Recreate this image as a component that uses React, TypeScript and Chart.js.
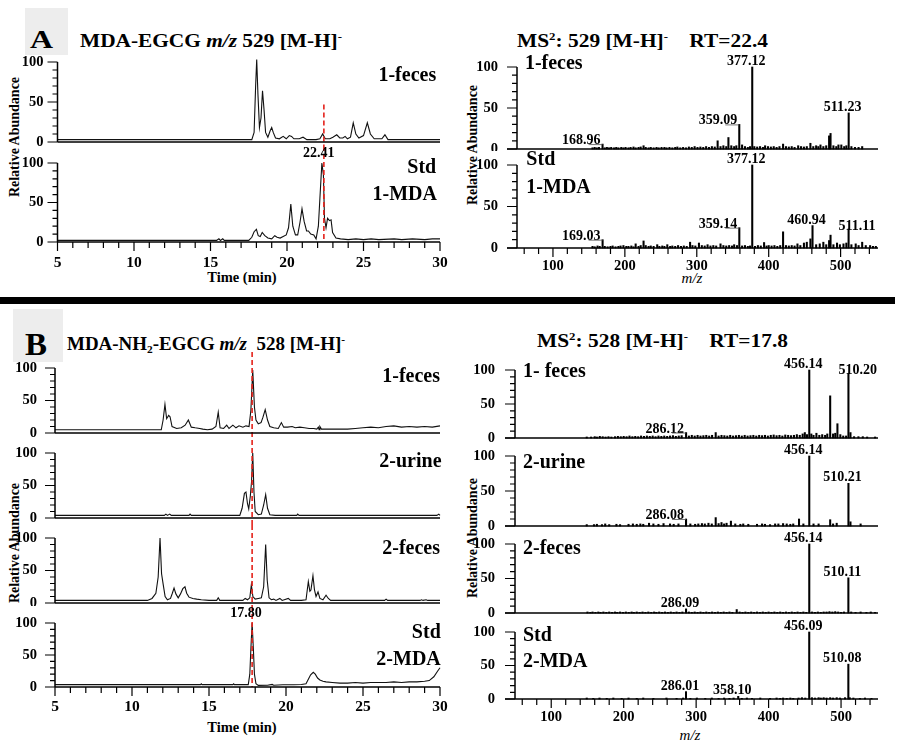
import React, { useEffect, useLayoutEffect, useRef } from 'react';
import { Chart, registerables } from 'chart.js';

Chart.register(...registerables);

const FONT = '"Liberation Serif", "Times New Roman", Times, serif';
Chart.defaults.font.family = FONT;

// ---------- tick values ----------
const yLabelTicks = [0, 50, 100];
const yTickMarks = [0, 10, 20, 30, 40, 50, 60, 70, 80, 90, 100];
const timeLabelTicks = [5, 10, 15, 20, 25, 30];
const timeTickMarks = [5, 6, 7, 8, 9, 10, 11, 12, 13, 14, 15, 16, 17, 18, 19, 20, 21, 22, 23, 24, 25, 26, 27, 28, 29, 30];
const mzLabelTicks = [100, 200, 300, 400, 500];
const mzTickMarks = [60, 80, 100, 120, 140, 160, 180, 200, 220, 240, 260, 280, 300, 320, 340, 360, 380, 400, 420, 440, 460, 480, 500, 520, 540];

// ---------- chromatograms: [time (min), relative abundance] ----------
const chromA1: [number, number][] = [
  [5, 3], [8, 3], [11, 3], [14, 3], [17.7, 3], [17.85, 12], [17.95, 70], [18.02, 103], [18.1, 60], [18.2, 18],
  [18.3, 30], [18.4, 64], [18.5, 40], [18.6, 12], [18.75, 6], [18.9, 14], [19.0, 18], [19.1, 12], [19.25, 5],
  [19.5, 4], [19.75, 7], [19.95, 4], [20.15, 8], [20.3, 7], [20.45, 4], [20.8, 4], [21.05, 6], [21.3, 3],
  [21.9, 3], [22.15, 4], [22.33, 10], [22.5, 4], [22.8, 4], [23.0, 6], [23.25, 9], [23.45, 5], [23.65, 5],
  [23.8, 7], [23.95, 4], [24.15, 6], [24.33, 24], [24.5, 10], [24.7, 5], [25.0, 8], [25.25, 24], [25.45, 10],
  [25.7, 4], [26.2, 4], [26.4, 9], [26.6, 3], [28, 3], [30, 3],
];
const chromA2: [number, number][] = [
  [5, 2], [10, 2], [15.4, 2], [15.55, 4], [15.65, 2], [15.8, 4], [15.9, 2], [17.5, 2], [17.7, 6], [17.85, 13],
  [18.0, 16], [18.12, 8], [18.25, 7], [18.38, 12], [18.55, 8], [18.75, 5], [19.0, 4], [19.2, 8], [19.35, 6],
  [19.55, 5], [19.75, 7], [19.95, 9], [20.1, 18], [20.25, 48], [20.38, 20], [20.55, 9], [20.7, 9], [20.85, 25],
  [20.98, 42], [21.12, 26], [21.28, 14], [21.4, 14], [21.55, 10], [21.75, 9], [21.9, 4], [22.05, 20], [22.15, 55],
  [22.28, 100], [22.38, 85], [22.45, 30], [22.55, 18], [22.65, 30], [22.78, 27], [22.88, 28], [22.98, 12],
  [23.2, 5], [23.5, 4], [24.0, 3], [24.5, 4], [25.0, 3], [25.5, 4], [26.0, 3], [27.0, 4], [27.5, 3], [28.2, 4],
  [29.0, 3], [29.5, 4], [30, 4],
];
const chromB1: [number, number][] = [
  [5, 5], [11.9, 5], [12.02, 20], [12.14, 44], [12.25, 22], [12.38, 27], [12.47, 25], [12.6, 10], [12.9, 7],
  [13.2, 8], [13.45, 12], [13.66, 20], [13.85, 9], [14.1, 8], [14.4, 7], [14.6, 6], [14.9, 5], [15.2, 6],
  [15.45, 10], [15.6, 32], [15.72, 8], [15.95, 7], [16.15, 12], [16.3, 7], [16.55, 12], [16.75, 8], [16.95, 11],
  [17.2, 9], [17.4, 11], [17.6, 10], [17.72, 35], [17.84, 97], [17.95, 40], [18.05, 20], [18.2, 14], [18.38, 16],
  [18.5, 24], [18.65, 36], [18.8, 20], [18.95, 10], [19.2, 8], [19.5, 7], [19.7, 16], [19.85, 9], [20.1, 9],
  [20.4, 10], [20.6, 8], [20.9, 9], [21.2, 8], [21.5, 7], [21.8, 7], [22.0, 6], [22.1, 9], [22.15, 5], [22.2, 10],
  [22.3, 6], [23, 6], [24, 6], [24.5, 7], [25, 8], [25.5, 9], [26, 8], [26.5, 10], [27, 11], [27.5, 9], [28, 10],
  [28.5, 9], [29, 10], [29.5, 9], [30, 11],
];
const chromB2: [number, number][] = [
  [5, 4], [12.1, 4], [12.2, 6], [12.3, 4], [12.45, 6], [12.55, 4], [13.7, 4], [13.77, 6], [13.85, 4], [17.0, 4],
  [17.15, 15], [17.3, 38], [17.4, 40], [17.5, 22], [17.58, 14], [17.68, 33], [17.76, 55], [17.84, 100], [17.92, 40],
  [18.0, 10], [18.2, 5], [18.4, 6], [18.55, 20], [18.68, 36], [18.8, 15], [18.95, 5], [19.3, 4], [20.7, 4],
  [20.76, 6], [20.85, 4], [29.8, 4], [29.92, 6], [30, 4],
];
const chromB3: [number, number][] = [
  [5, 4], [11.0, 4], [11.3, 7], [11.55, 15], [11.7, 40], [11.82, 100], [11.92, 45], [12.03, 28], [12.15, 10],
  [12.3, 5], [12.5, 7], [12.62, 15], [12.73, 23], [12.85, 14], [13.0, 8], [13.15, 14], [13.3, 22], [13.44, 25],
  [13.55, 15], [13.7, 9], [13.95, 7], [14.2, 6], [14.5, 5], [15.0, 4], [15.5, 4], [15.6, 8], [15.7, 4], [17.2, 4],
  [17.35, 7], [17.5, 5], [17.65, 8], [17.75, 28], [17.85, 10], [18.0, 6], [18.2, 7], [18.4, 8], [18.55, 25],
  [18.68, 90], [18.78, 35], [18.9, 8], [19.05, 5], [19.2, 6], [19.35, 4], [19.6, 7], [19.75, 4], [20.15, 7],
  [20.3, 4], [21.0, 4], [21.3, 5], [21.45, 33], [21.55, 18], [21.62, 20], [21.75, 42], [21.85, 20], [21.95, 10],
  [22.08, 17], [22.2, 7], [22.4, 5], [22.6, 12], [22.75, 7], [22.9, 4], [26.4, 4], [26.5, 6], [26.6, 4], [28.7, 4],
  [28.8, 5], [28.9, 4], [29.1, 5], [29.2, 4], [30, 4],
];
const chromB4: [number, number][] = [
  [5, 3.7], [14.45, 3.7], [14.5, 5], [14.55, 3.7], [16.55, 3.7], [16.6, 5], [16.65, 3.7], [17.55, 3.7], [17.65, 20],
  [17.72, 60], [17.8, 100], [17.88, 60], [17.95, 20], [18.05, 5], [18.2, 2.5], [18.8, 2.7], [19.1, 4], [19.2, 2.7],
  [19.8, 3.5], [20.5, 3.5], [21.0, 4], [21.3, 5], [21.45, 12], [21.6, 19], [21.77, 23], [21.9, 20], [22.05, 14],
  [22.2, 11], [22.4, 9], [22.6, 8], [23, 7], [23.5, 6], [24, 6], [24.5, 7], [25, 6], [25.5, 7], [26, 7], [26.5, 7],
  [27, 8], [27.5, 7], [28, 8], [28.5, 8], [29, 9], [29.3, 10], [29.6, 16], [29.85, 25], [30, 30],
];

// ---------- MS2 spectra: [m/z, relative abundance] ----------
const msA1: [number, number][] = [
  [155, 1.5], [158, 2], [161, 1.5], [164, 2], [168.96, 6], [172, 1.5], [175, 2], [178, 1.5], [181, 2], [185, 1.5],
  [188, 2], [191, 1.5], [195, 2], [198, 1.5], [201, 2], [205, 1.5], [208, 2], [212, 2.5], [215, 1.5], [219, 2],
  [222, 2.5], [226, 4], [229, 2], [233, 1.5], [236, 2], [240, 1.5], [244, 2], [247, 1.5], [251, 2], [255, 2],
  [258, 1.5], [262, 2], [266, 1.5], [270, 2], [273, 2.5], [277, 1.5], [281, 2], [285, 1.5], [289, 2.5], [293, 2],
  [297, 3], [301, 2], [305, 2.5], [309, 2], [313, 3], [317, 2], [321, 3], [325, 2.5], [329, 10], [333, 3],
  [337, 4], [341, 3], [344, 14], [348, 4], [352, 3], [355, 4], [359.09, 30], [363, 5], [367, 3], [371, 2],
  [374, 3], [377.12, 100], [380, 3], [384, 2.5], [388, 3], [392, 2], [395, 4], [399, 3], [403, 2.5], [407, 3],
  [411, 2], [415, 3], [420, 6], [424, 3], [428, 2.5], [432, 3], [436, 2], [441, 4], [445, 3], [449, 2.5],
  [453, 3], [458, 7], [462, 3], [466, 4], [469, 3], [472, 5], [476, 3], [480, 4], [484, 16], [486, 19],
  [490, 4], [494, 3], [497, 5], [501, 5], [505, 3], [508, 4], [511.23, 44], [515, 3], [520, 2], [525, 2], [530, 3],
];
const msA2: [number, number][] = [
  [155, 2], [158, 1.5], [162, 2.5], [165, 2], [169.03, 10], [172, 2], [176, 1.5], [180, 2], [183, 2.5], [187, 1.5],
  [191, 2], [194, 2.5], [198, 3], [202, 2], [205, 2], [209, 2.5], [212, 1.5], [215, 5], [219, 2], [222, 3],
  [226, 8.5], [229, 3], [233, 2], [236, 2.5], [240, 2], [245, 4], [248, 2], [252, 2.5], [255, 2], [259, 4],
  [263, 2], [266, 2.5], [270, 2], [274, 3], [278, 2], [282, 2.5], [286, 2], [290.7, 7], [294, 3], [298, 2.5],
  [303, 6], [307, 3], [311, 2.5], [315, 4], [319, 2.5], [323, 3], [327, 2.5], [333, 5], [337, 3], [341, 2.5],
  [345, 3], [349, 2.5], [352, 4], [356, 3], [359.14, 24.5], [363, 2.5], [367, 3], [371, 2], [374, 2.5],
  [377.12, 100], [381, 2], [385, 3], [389, 2.5], [393.6, 6.6], [397, 2.5], [400, 3], [404, 2.5], [408, 3],
  [412, 2], [416, 3], [420, 19.5], [424, 3], [428, 2.5], [432, 3], [436, 2.5], [440, 5], [444, 3], [449, 6],
  [453, 7], [458, 11], [460.94, 27], [466, 4], [471, 5], [476, 7], [480, 4], [484, 9], [486, 15.5], [490, 4],
  [495, 6], [499, 4], [504, 5], [508, 6], [511.11, 23], [515, 4], [521, 5], [525, 3], [530, 7], [535, 3],
  [541, 3], [545, 2], [549, 2],
];
const msB1: [number, number][] = [
  [149, 1.5], [155, 1.5], [160, 2], [163, 1.5], [167, 2.5], [171, 2], [175, 1.5], [179, 2], [183, 1.5], [188, 2],
  [192, 2.5], [196, 2], [200, 2.5], [204, 2], [208, 3], [212, 2], [216, 2.5], [220, 2], [224, 3], [228, 2.5],
  [232, 3], [236, 2.5], [240, 3], [244, 2], [248, 3], [252, 2.5], [256, 3], [260, 2.5], [264, 3], [268, 3.5],
  [272, 2.5], [276, 3], [280, 3.5], [286.12, 8], [290, 3], [294, 4], [298, 3], [302, 4], [306, 3], [310, 3.5],
  [314, 4], [318, 3], [322, 4], [327, 8], [331, 3], [335, 4], [339, 3.5], [343, 3], [347, 4], [351, 3],
  [355, 3.5], [359, 4], [363, 3], [367, 4], [371, 3], [375, 3.5], [379, 4], [383, 3], [387, 4], [391, 3.5],
  [395, 4], [399, 3], [403, 4], [407, 4.5], [411, 3.5], [415, 4], [419, 3], [423, 4.5], [427, 4], [431, 3.5],
  [435, 4], [439, 5], [443, 4], [447, 6], [450, 8], [453, 5], [456.14, 100], [459, 6], [462, 4], [466, 7],
  [470, 4], [474, 5], [478, 4], [481, 6], [485, 62], [489, 6], [492, 7], [495, 21], [499, 5], [503, 3],
  [507, 3], [510.2, 95], [513, 8], [518, 2], [524, 2], [530, 2], [536, 1.5], [547, 1.5],
];
const msB2: [number, number][] = [
  [149, 2], [159, 2], [163, 2.5], [170, 2], [174.5, 3], [180, 2], [190, 2.5], [195, 2], [206.7, 2.5], [212.7, 3],
  [218, 2.5], [223, 3], [227, 2.5], [235, 4], [241, 3], [248, 2.5], [255, 3.5], [264, 3], [269, 2.5], [275.6, 3],
  [286.08, 10], [292, 3], [298.6, 2.5], [303, 3], [308, 3.5], [312, 3], [317, 4], [321.6, 3], [327, 12],
  [331, 3.5], [335, 5], [338.6, 3], [342, 4], [348, 7], [354, 3], [361, 2.5], [365, 3], [372, 2.5], [384, 2.5],
  [391, 3], [395, 2.5], [402, 2], [409, 3], [413.5, 3], [420, 3.5], [425, 3], [430, 2.5], [434, 3], [442, 10],
  [448, 3], [456.14, 100], [462, 3], [469, 3], [485, 9], [489, 3], [494, 4], [510.21, 61], [513, 6], [527, 3],
];
const msB3: [number, number][] = [
  [150, 1.5], [154, 1], [157, 1.5], [161, 1], [165, 1.5], [168, 1], [172, 1.5], [176, 1], [180, 1.5], [184, 1],
  [188, 1.5], [191, 1], [195, 1.5], [199, 1], [203, 1.5], [207, 1], [211, 1.5], [214, 1], [218, 1.5], [222, 1],
  [226, 1.5], [230, 1], [234, 1.5], [238, 1], [242, 1.5], [245, 1], [249, 1.5], [253, 1], [257, 1.5], [261, 1],
  [265, 1.5], [269, 1], [273, 1.5], [277, 1], [281, 1.5], [286.09, 6], [290, 1.5], [294, 1], [298, 1.5],
  [302, 1], [306, 1.5], [310, 1], [314, 1.5], [318, 1], [322, 1.5], [326, 1], [330, 1.5], [334, 1], [338, 1.5],
  [342, 1], [346, 1.5], [350, 1], [356, 5], [360, 1.5], [364, 1], [368, 1.5], [372, 1], [376, 1.5], [380, 1],
  [384, 1.5], [388, 1], [392, 1.5], [396, 1], [400, 1.5], [404, 1], [408, 1.5], [412, 1], [416, 1.5], [420, 1],
  [424, 1.5], [428, 1], [432, 1.5], [436, 1], [440, 1.5], [444, 1], [448, 1.5], [452, 1], [456.14, 100],
  [460, 1.5], [464, 1], [468, 1.5], [472, 1], [476, 1.5], [480, 1.5], [484, 2], [488, 1.5], [492, 2], [496, 1.5],
  [500, 1], [504, 1.5], [510.11, 51], [514, 1.5], [520, 1], [527, 1.5], [535, 1], [541, 1.5], [547, 1],
];
const msB4: [number, number][] = [
  [149, 1.5], [158, 1], [166.6, 1.5], [176.6, 1], [185.7, 1.5], [197.2, 1], [206.7, 1.5], [218, 1], [227, 1.5],
  [241, 1], [259, 1.5], [273, 1], [282, 1.5], [286.01, 11], [292, 1], [301, 1.5], [312.6, 1], [321.6, 1.5],
  [331, 1], [338.6, 1.5], [346, 1], [351.7, 1.5], [358.1, 4], [363, 1], [370, 1.5], [377, 1], [388.5, 1.5],
  [402, 1], [411, 1.5], [416, 1], [420, 1.5], [425, 1], [430, 1.5], [434, 1], [441.4, 1.5], [446, 2],
  [450.6, 1.5], [456.09, 100], [459.8, 2], [464, 1.5], [469, 2], [472, 1.5], [476, 2], [480, 1.5], [485, 2],
  [489, 1.5], [494, 2], [498.6, 1.5], [505.5, 2], [510.08, 52], [512, 2], [517, 1.5], [526, 1], [533, 1.5], [542, 1],
];

// labelled fragment ions (m/z)
const peaksA1 = [168.96, 359.09, 377.12, 511.23];
const peaksA2 = [169.03, 359.14, 377.12, 460.94, 511.11];
const peaksB1 = [286.12, 456.14, 510.2];
const peaksB2 = [286.08, 456.14, 510.21];
const peaksB3 = [286.09, 456.14, 510.11];
const peaksB4 = [286.01, 358.1, 456.09, 510.08];

// retention-time markers
const rtA = 22.41;
const rtB = 17.8;

// ---------- layout of the panels (screen px) ----------
type Lbl = { text: string; x: number; y: number; align: CanvasTextAlign };
type Spec = {
  id: string; kind: 'chrom' | 'ms'; left: number; top: number; width: number; height: number;
  points: [number, number][]; xMin: number; xMax: number; axisLeft: number; axisRight: number;
  y100: number; y0: number; bottom: boolean; yPad: number; xPad?: number; xFont?: number;
  labels: Lbl[]; peaks?: number[]; anchors?: string[];
  red?: { x: number; from: number | null; to: number | null }; redLabel?: { y: number; dx: number };
};

const specs: Spec[] = [
  { id: 'Ac1', kind: 'chrom', left: 0, top: 50, width: 450, height: 96, points: chromA1, xMin: 5, xMax: 30,
    axisLeft: 57.5, axisRight: 440, y100: 62, y0: 142, bottom: false, yPad: 14,
    labels: [{ text: '1-feces', x: 29.75, y: 82.5, align: 'right' }], red: { x: rtA, from: 47, to: null } },
  { id: 'Ac2', kind: 'chrom', left: 0, top: 146, width: 450, height: 144, points: chromA2, xMin: 5, xMax: 30,
    axisLeft: 57.5, axisRight: 440, y100: 163, y0: 242, bottom: true, yPad: 14, xPad: 12, xFont: 15.5,
    labels: [{ text: 'Std', x: 29.75, y: 93.7, align: 'right' }, { text: '1-MDA', x: 29.8, y: 59.5, align: 'right' }],
    red: { x: rtA, from: null, to: 0 }, redLabel: { y: 112.6, dx: -5 } },
  { id: 'Am1', kind: 'ms', left: 455, top: 50, width: 447, height: 101, points: msA1, xMin: 50, xMax: 552,
    axisLeft: 517, axisRight: 878, y100: 67, y0: 149, bottom: false, yPad: 19,
    labels: [{ text: '1-feces', x: 61, y: 103.7, align: 'left' }], peaks: peaksA1, anchors: ['l', 'l', 'c', 'c'] },
  { id: 'Am2', kind: 'ms', left: 455, top: 151, width: 447, height: 139, points: msA2, xMin: 50, xMax: 552,
    axisLeft: 517, axisRight: 878, y100: 165, y0: 248, bottom: true, yPad: 19, xPad: 10, xFont: 14.5,
    labels: [{ text: 'Std', x: 63, y: 106, align: 'left' }, { text: '1-MDA', x: 63, y: 72, align: 'left' }],
    peaks: peaksA2, anchors: ['l', 'l', 'c', 'c', 'r'] },

  { id: 'Bc1', kind: 'chrom', left: 0, top: 352, width: 450, height: 88, points: chromB1, xMin: 5, xMax: 30,
    axisLeft: 55, axisRight: 440, y100: 368, y0: 433, bottom: false, yPad: 18,
    labels: [{ text: '1-feces', x: 30, y: 86, align: 'right' }], red: { x: rtB, from: null, to: null } },
  { id: 'Bc2', kind: 'chrom', left: 0, top: 440, width: 450, height: 85, points: chromB2, xMin: 5, xMax: 30,
    axisLeft: 55, axisRight: 440, y100: 453, y0: 518, bottom: false, yPad: 18,
    labels: [{ text: '2-urine', x: 30.1, y: 86, align: 'right' }], red: { x: rtB, from: null, to: null } },
  { id: 'Bc3', kind: 'chrom', left: 0, top: 525, width: 450, height: 81, points: chromB3, xMin: 5, xMax: 30,
    axisLeft: 55, axisRight: 440, y100: 538, y0: 603, bottom: false, yPad: 18,
    labels: [{ text: '2-feces', x: 30, y: 83, align: 'right' }], red: { x: rtB, from: null, to: null } },
  { id: 'Bc4', kind: 'chrom', left: 0, top: 606, width: 450, height: 143, points: chromB4, xMin: 5, xMax: 30,
    axisLeft: 55, axisRight: 440, y100: 623, y0: 687, bottom: true, yPad: 18, xPad: 11, xFont: 15.5,
    labels: [{ text: 'Std', x: 30.05, y: 84, align: 'right' }, { text: '2-MDA', x: 30.05, y: 42, align: 'right' }],
    red: { x: rtB, from: null, to: 0 }, redLabel: { y: 115.6, dx: -6 } },

  { id: 'Bm1', kind: 'ms', left: 455, top: 352, width: 447, height: 90, points: msB1, xMin: 50, xMax: 551,
    axisLeft: 515, axisRight: 878, y100: 370, y0: 438, bottom: false, yPad: 20,
    labels: [{ text: '1- feces', x: 61, y: 97, align: 'left' }], peaks: peaksB1, anchors: ['l', 'c', 'r'] },
  { id: 'Bm2', kind: 'ms', left: 455, top: 442, width: 447, height: 88, points: msB2, xMin: 50, xMax: 551,
    axisLeft: 515, axisRight: 878, y100: 456, y0: 526, bottom: false, yPad: 20,
    labels: [{ text: '2-urine', x: 61, y: 90, align: 'left' }], peaks: peaksB2, anchors: ['l', 'c', 'c'] },
  { id: 'Bm3', kind: 'ms', left: 455, top: 530, width: 447, height: 87, points: msB3, xMin: 50, xMax: 551,
    axisLeft: 515, axisRight: 878, y100: 544, y0: 613, bottom: false, yPad: 20,
    labels: [{ text: '2-feces', x: 61, y: 93, align: 'left' }], peaks: peaksB3, anchors: ['c', 'c', 'c'] },
  { id: 'Bm4', kind: 'ms', left: 455, top: 617, width: 447, height: 132, points: msB4, xMin: 50, xMax: 551,
    axisLeft: 515, axisRight: 878, y100: 632, y0: 699, bottom: true, yPad: 20, xPad: 10, xFont: 14.5,
    labels: [{ text: 'Std', x: 61, y: 94, align: 'left' }, { text: '2-MDA', x: 61, y: 55, align: 'left' }],
    peaks: peaksB4, anchors: ['c', 'c', 'c', 'c'] },
];

const YW = 50;
const XH = 32;

function makeDeco(spec: Spec) {
  return {
    id: 'deco',
    afterDatasetsDraw(chart: any) {
      const ctx: CanvasRenderingContext2D = chart.ctx;
      const xs = chart.scales.x;
      const ys = chart.scales.y;
      const left = xs.getPixelForValue(spec.xMin);
      const right = xs.getPixelForValue(spec.xMax);
      const y0 = ys.getPixelForValue(0);
      const y100 = ys.getPixelForValue(100);
      ctx.save();
      ctx.strokeStyle = '#000';
      ctx.fillStyle = '#000';

      // retention-time marker
      if (spec.red) {
        const px = xs.getPixelForValue(spec.red.x);
        const ya = spec.red.from == null ? 0 : ys.getPixelForValue(spec.red.from);
        const yb = spec.red.to == null ? chart.height : ys.getPixelForValue(spec.red.to);
        ctx.save();
        ctx.strokeStyle = '#e4221b';
        ctx.lineWidth = 1.6;
        ctx.setLineDash([5, 3]);
        ctx.beginPath();
        ctx.moveTo(px, ya);
        ctx.lineTo(px, yb);
        ctx.stroke();
        ctx.restore();
      }

      // axis lines
      ctx.lineWidth = 1.5;
      ctx.beginPath();
      ctx.moveTo(left, y100);
      ctx.lineTo(left, y0);
      ctx.moveTo(left - (spec.kind === 'ms' ? 10 : 0), y0);
      ctx.lineTo(right, y0);
      ctx.stroke();

      // tick marks
      ctx.lineWidth = 1.2;
      ctx.beginPath();
      for (const v of yTickMarks) {
        const p = ys.getPixelForValue(v);
        const len = yLabelTicks.includes(v) ? 10 : 5;
        ctx.moveTo(left - len, p);
        ctx.lineTo(left, p);
      }
      if (spec.bottom) {
        const marks = spec.kind === 'chrom' ? timeTickMarks : mzTickMarks;
        const majors = spec.kind === 'chrom' ? timeLabelTicks : mzLabelTicks;
        for (const v of marks) {
          const p = xs.getPixelForValue(v);
          const len = majors.includes(v) ? 9 : 6;
          ctx.moveTo(p, y0);
          ctx.lineTo(p, y0 + len);
        }
      }
      ctx.stroke();

      // sample labels
      ctx.font = `bold 20px ${FONT}`;
      ctx.textBaseline = 'middle';
      for (const l of spec.labels) {
        ctx.textAlign = l.align;
        ctx.fillText(l.text, xs.getPixelForValue(l.x), ys.getPixelForValue(l.y));
      }

      // RT label
      if (spec.red && spec.redLabel) {
        ctx.font = `bold 14px ${FONT}`;
        ctx.textAlign = 'center';
        ctx.fillText(spec.red.x.toFixed(2), xs.getPixelForValue(spec.red.x) + spec.redLabel.dx, ys.getPixelForValue(spec.redLabel.y));
      }

      // peak labels
      if (spec.peaks) {
        ctx.font = `bold 14px ${FONT}`;
        ctx.textBaseline = 'alphabetic';
        spec.peaks.forEach((mz, i) => {
          const pt = spec.points.find((p) => p[0] === mz);
          if (!pt) return;
          const px = xs.getPixelForValue(mz);
          const py = ys.getPixelForValue(pt[1]);
          const a = spec.anchors ? spec.anchors[i] : 'c';
          const txt = mz.toFixed(2);
          if (a === 'l') {
            ctx.textAlign = 'right';
            ctx.fillText(txt, px - 2, py);
            ctx.save();
            ctx.strokeStyle = '#555';
            ctx.lineWidth = 0.8;
            ctx.beginPath();
            ctx.moveTo(px - 14, py + 0.5);
            ctx.lineTo(px, py + 0.5);
            ctx.stroke();
            ctx.restore();
          } else if (a === 'r') {
            ctx.textAlign = 'left';
            ctx.fillText(txt, px - 10, py + 1);
          } else {
            ctx.textAlign = 'center';
            ctx.fillText(txt, px - 6, py - 2);
          }
        });
      }
      ctx.restore();
    },
  };
}

function Panel({ spec }: { spec: Spec }) {
  const ref = useRef<HTMLCanvasElement>(null);
  useEffect(() => {
    const canvas = ref.current;
    if (!canvas) return;
    const caL = spec.axisLeft - spec.left;
    const caR = spec.axisRight - spec.left;
    const caT = spec.y100 - spec.top;
    const caB = spec.y0 - spec.top;
    const padding = {
      left: caL - YW,
      right: spec.width - caR,
      top: caT,
      bottom: spec.height - caB - (spec.bottom ? XH : 0),
    };
    const data = spec.points.map(([x, y]) => ({ x, y }));
    const isChrom = spec.kind === 'chrom';
    const dataset: any = isChrom
      ? { type: 'line', data, borderColor: '#111', borderWidth: 1.1, pointRadius: 0, tension: 0, clip: false }
      : { type: 'bar', data, backgroundColor: '#000', barThickness: 1.4, borderWidth: 0, clip: false };
    const xLabels = isChrom ? timeLabelTicks : mzLabelTicks;
    const chart = new Chart(canvas, {
      type: isChrom ? 'line' : 'bar',
      data: { datasets: [dataset] },
      options: {
        responsive: false,
        animation: false,
        events: [],
        layout: { padding, autoPadding: false },
        plugins: { legend: { display: false }, tooltip: { enabled: false }, title: { display: false } },
        scales: {
          x: {
            type: 'linear',
            min: spec.xMin,
            max: spec.xMax,
            offset: false,
            display: spec.bottom,
            grid: { display: false, drawTicks: false, offset: false },
            border: { display: false },
            afterBuildTicks: (s: any) => { s.ticks = xLabels.map((v) => ({ value: v })); },
            afterFit: (s: any) => { s.height = spec.bottom ? XH : 0; s.paddingLeft = 0; s.paddingRight = 0; },
            ticks: {
              autoSkip: false, maxRotation: 0, minRotation: 0, padding: spec.xPad ?? 10, color: '#000',
              font: { family: FONT, size: spec.xFont ?? 14, weight: 'bold' },
            },
          },
          y: {
            type: 'linear',
            min: 0,
            max: 100,
            grid: { display: false, drawTicks: false },
            border: { display: false },
            afterBuildTicks: (s: any) => { s.ticks = yLabelTicks.map((v) => ({ value: v })); },
            afterFit: (s: any) => { s.width = YW; s.paddingTop = 0; s.paddingBottom = 0; },
            ticks: { autoSkip: false, padding: spec.yPad, color: '#000', font: { family: FONT, size: 14.5, weight: 'bold' } },
          },
        },
      } as any,
      plugins: [makeDeco(spec)],
    } as any);
    return () => chart.destroy();
  }, [spec]);
  return (
    <canvas
      ref={ref}
      width={spec.width}
      height={spec.height}
      style={{ position: 'absolute', left: spec.left, top: spec.top, width: spec.width, height: spec.height }}
    />
  );
}

function FitText({ left, cy, width, size, children }: { left: number; cy: number; width: number; size: number; children: any }) {
  const ref = useRef<HTMLDivElement>(null);
  useLayoutEffect(() => {
    const el = ref.current;
    if (!el) return;
    el.style.transform = 'translateY(-50%)';
    const w = el.getBoundingClientRect().width;
    if (w > 0) el.style.transform = `translateY(-50%) scaleX(${width / w})`;
  }, [width]);
  return (
    <div
      ref={ref}
      style={{
        position: 'absolute', left, top: cy, whiteSpace: 'nowrap', fontFamily: FONT, fontWeight: 'bold',
        fontSize: size, lineHeight: 1, transformOrigin: 'left center', transform: 'translateY(-50%)', color: '#000',
      }}
    >
      {children}
    </div>
  );
}

const sup = { fontSize: '0.6em', position: 'relative' as const, top: '-0.65em' };
const sub = { fontSize: '0.6em', position: 'relative' as const, top: '0.3em' };

function VText({ cx, cy, size, children, italic, weight }: any) {
  return (
    <div
      style={{
        position: 'absolute', left: cx, top: cy, transform: 'translate(-50%, -50%) rotate(-90deg)', whiteSpace: 'nowrap',
        fontFamily: FONT, fontWeight: weight ?? 'bold', fontSize: size, lineHeight: 1, fontStyle: italic ? 'italic' : 'normal',
      }}
    >
      {children}
    </div>
  );
}

function CText({ cx, cy, size, children, italic, weight }: any) {
  return (
    <div
      style={{
        position: 'absolute', left: cx, top: cy, transform: 'translate(-50%, -50%)', whiteSpace: 'nowrap',
        fontFamily: FONT, fontWeight: weight ?? 'bold', fontSize: size, lineHeight: 1, fontStyle: italic ? 'italic' : 'normal',
      }}
    >
      {children}
    </div>
  );
}

export default function App() {
  return (
    <div style={{ position: 'absolute', left: 0, top: 0, width: 902, height: 749, background: '#fff', overflow: 'hidden' }}>
      {/* section A headings */}
      <div style={{ position: 'absolute', left: 25, top: 8, width: 43, height: 47, background: '#ededed' }} />
      <FitText left={30} cy={38.5} width={23} size={25}>A</FitText>
      <FitText left={80} cy={40} width={262} size={19}>
        MDA-EGCG <i>m/z</i> 529 [M-H]<span style={sup}>-</span>
      </FitText>
      <FitText left={517} cy={40} width={251} size={19}>
        MS<span style={sup}>2</span>: 529 [M-H]<span style={sup}>-</span>{'\u00a0\u00a0\u00a0\u00a0'}RT=22.4
      </FitText>

      {/* separator */}
      <div style={{ position: 'absolute', left: 0, top: 297, width: 895, height: 7, background: '#000' }} />

      {/* section B headings */}
      <div style={{ position: 'absolute', left: 13, top: 309, width: 50, height: 53, background: '#ededed' }} />
      <FitText left={25} cy={344} width={22} size={32}>B</FitText>
      <FitText left={67} cy={343} width={278} size={19}>
        MDA-NH<span style={sub}>2</span>-EGCG <i>m/z</i>{'\u00a0 '}528 [M-H]<span style={sup}>-</span>
      </FitText>
      <FitText left={537} cy={340} width={251} size={19}>
        MS<span style={sup}>2</span>: 528 [M-H]<span style={sup}>-</span>{'\u00a0\u00a0\u00a0\u00a0'}RT=17.8
      </FitText>

      {/* axis titles */}
      <VText cx={15} cy={137} size={14}>Relative Abundance</VText>
      <VText cx={473} cy={145} size={14}>Relative Abundance</VText>
      <VText cx={15} cy={543} size={14}>Relative Abundance</VText>
      <VText cx={473} cy={538} size={14}>Relative Abundance</VText>
      <CText cx={242} cy={277} size={14.5}>Time (min)</CText>
      <CText cx={242} cy={727} size={14.5}>Time (min)</CText>
      <CText cx={692} cy={278} size={15} italic weight="normal">m/z</CText>
      <CText cx={690} cy={735} size={15} italic weight="normal">m/z</CText>

      {specs.map((s) => (
        <Panel key={s.id} spec={s} />
      ))}
    </div>
  );
}
